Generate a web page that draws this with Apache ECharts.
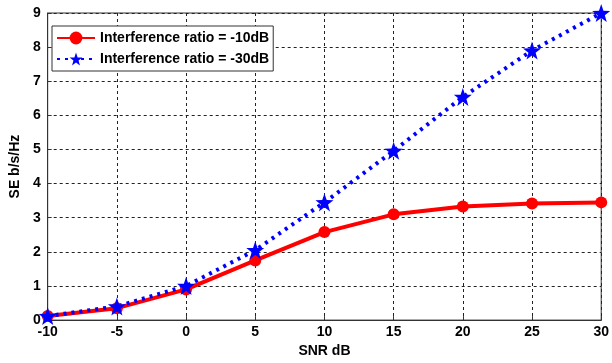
<!DOCTYPE html>
<html>
<head>
<meta charset="utf-8">
<script src="https://cdn.jsdelivr.net/npm/echarts@6/dist/echarts.min.js"></script>
<style>
html, body { margin: 0; padding: 0; background: #fff; }
#main { width: 612px; height: 363px; }
</style>
</head>
<body>
<div id="main"></div>
<script>
// SNR in dB along the x axis
var snr = [-10, -5, 0, 5, 10, 15, 20, 25, 30];
// spectral efficiency for both interference ratios
var se10 = [0.12, 0.35, 0.9, 1.75, 2.58, 3.1, 3.33, 3.42, 3.45];
var se30 = [0.12, 0.4, 1.0, 2.05, 3.45, 4.96, 6.54, 7.9, 9.0];

var star = 'path://M0,-10L2.35,-3.24L9.51,-3.09L3.8,1.24L5.88,8.09L0,4L-5.88,8.09L-3.8,1.24L-9.51,-3.09L-2.35,-3.24Z';

function pairs(xs, ys) {
    return xs.map(function (x, i) { return [x, ys[i]]; });
}

window.addEventListener("load", function () {
    var chart = echarts.init(document.getElementById('main'));
    var lab = { color: '#000', fontFamily: 'Liberation Sans, Arial', fontWeight: 'bold', fontSize: 14 };

    var option = {
        animation: false,
        grid: {
            left: 39, right: 7, top: 13, bottom: 40,
            show: true, borderColor: '#333', borderWidth: 1
        },
        legend: {
            orient: 'vertical',
            left: 52, top: 26,
            padding: [5, 4, 5, 4],
            itemGap: 7,
            itemWidth: 38, itemHeight: 16,
            backgroundColor: '#fff',
            borderColor: '#333', borderWidth: 1,
            textStyle: { color: '#000', fontFamily: 'Liberation Sans, Arial', fontWeight: 'bold', fontSize: 14 },
            data: ['Interference ratio = -10dB', 'Interference ratio = -30dB']
        },
        xAxis: {
            type: 'value',
            min: -10, max: 30, interval: 5,
            name: 'SNR dB',
            nameLocation: 'middle',
            nameGap: 22,
            nameTextStyle: lab,
            axisLine: { onZero: false, lineStyle: { color: '#333' } },
            axisTick: { inside: true, length: 4, lineStyle: { color: '#333' } },
            axisLabel: Object.assign({ margin: 5 }, lab),
            splitLine: { show: true, lineStyle: { color: '#222', type: [3, 3], width: 1 } }
        },
        yAxis: {
            type: 'value',
            min: 0, max: 9, interval: 1,
            name: 'SE b/s/Hz',
            nameLocation: 'middle',
            nameGap: 20,
            nameTextStyle: lab,
            axisLine: { show: true, onZero: false, lineStyle: { color: '#333' } },
            axisTick: { show: true, inside: true, length: 4, lineStyle: { color: '#333' } },
            axisLabel: Object.assign({ margin: 7 }, lab),
            splitLine: { show: true, lineStyle: { color: '#222', type: [3, 3], width: 1 } }
        },
        series: [
            {
                name: 'Interference ratio = -10dB',
                type: 'line',
                data: pairs(snr, se10),
                symbol: 'circle',
                symbolSize: 12,
                itemStyle: { color: '#ff0000' },
                lineStyle: { color: '#ff0000', width: 4 }
            },
            {
                name: 'Interference ratio = -30dB',
                type: 'line',
                data: pairs(snr, se30),
                symbol: star,
                symbolSize: 18,
                itemStyle: { color: '#0000ff' },
                lineStyle: { color: '#0000ff', width: 4, type: [3, 5] }
            }
        ]
    };

    chart.setOption(option);
}, false);
</script>
</body>
</html>
